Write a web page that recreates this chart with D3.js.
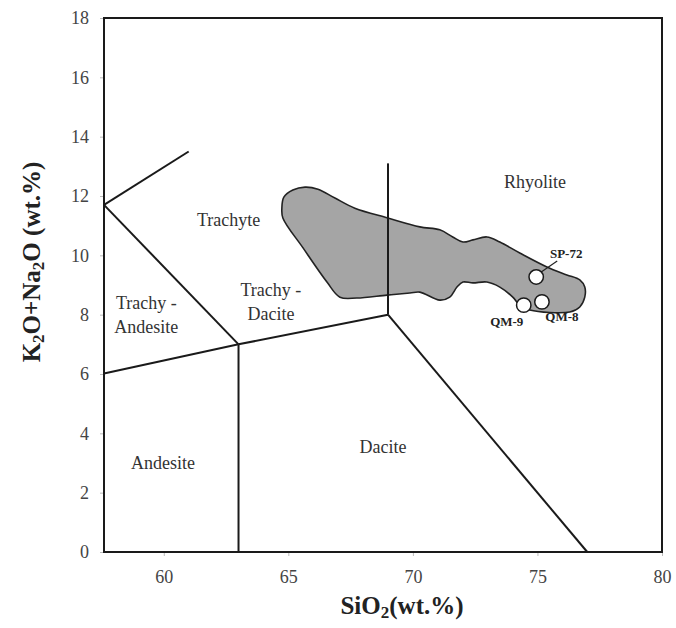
<!DOCTYPE html>
<html>
<head>
<meta charset="utf-8">
<script src="https://cdn.jsdelivr.net/npm/d3@7"></script>
<style>
  body { margin: 0; background: #fff; }
  text { font-family: "Liberation Serif", "DejaVu Serif", serif; }
</style>
</head>
<body>
<svg></svg>
<script>
// TAS field boundaries (SiO2, K2O+Na2O)
const boundaries = [
  [[57.6, 11.7], [61, 13.5]],
  [[57.6, 11.7], [63, 7]],
  [[57.6, 6.02], [63, 7]],
  [[63, 7], [69, 8]],
  [[63, 0], [63, 7]],
  [[69, 8], [69, 13.1]],
  [[69, 8], [77, 0]]
];

const fieldLabels = [
  {text: ["Rhyolite"], x: 74.9, y: 12.47},
  {text: ["Trachyte"], x: 62.6, y: 11.19},
  {text: ["Trachy -", "Dacite"], x: 64.3, y: 8.83},
  {text: ["Trachy -", "Andesite"], x: 59.3, y: 8.39},
  {text: ["Andesite"], x: 59.97, y: 3.0},
  {text: ["Dacite"], x: 68.8, y: 3.54}
];

// outline of the grey field
const fieldOutline = [
  [64.74, 11.59], [64.82, 11.96], [65.18, 12.20], [65.67, 12.30], [66.19, 12.23],
  [66.87, 11.93], [67.67, 11.59], [68.99, 11.26], [70.28, 10.96], [71.08, 10.86],
  [71.60, 10.62], [72.01, 10.45], [72.41, 10.52], [72.97, 10.62], [73.49, 10.45],
  [74.29, 10.08], [75.38, 9.61], [76.18, 9.34], [76.70, 9.17], [76.90, 8.93],
  [76.90, 8.59], [76.70, 8.26], [76.30, 8.09], [74.69, 8.16], [74.29, 8.32],
  [74.01, 8.59], [73.49, 8.93], [72.97, 9.10], [72.41, 9.07], [72.01, 9.10],
  [71.77, 8.93], [71.48, 8.59], [71.08, 8.49], [70.28, 8.76], [69.88, 8.73],
  [68.96, 8.66], [67.75, 8.56], [67.07, 8.59], [66.55, 9.10], [65.59, 10.25],
  [64.78, 11.26]
];

const samples = [
  {name: "SP-72", x: 74.95, y: 9.27},
  {name: "QM-9", x: 74.45, y: 8.32},
  {name: "QM-8", x: 75.18, y: 8.43}
];

const xTicks = [60, 65, 70, 75, 80];
const yTicks = [0, 2, 4, 6, 8, 10, 12, 14, 16, 18];

const svg = d3.select("svg")
    .attr("width", 676)
    .attr("height", 628);

const margin = {top: 18, right: 14, bottom: 76, left: 104},
      width = 676 - margin.left - margin.right,
      height = 628 - margin.top - margin.bottom;

const g = svg.append("g")
    .attr("transform", `translate(${margin.left},${margin.top})`);

const x = d3.scaleLinear().domain([57.6, 80]).range([0, width]);
const y = d3.scaleLinear().domain([0, 18]).range([height, 0]);

// axes (ticks only, frame drawn separately)
const xAxis = g.append("g")
    .attr("transform", `translate(0,${height})`)
    .call(d3.axisBottom(x).tickValues(xTicks).tickSize(4).tickPadding(14));
const yAxis = g.append("g")
    .call(d3.axisLeft(y).tickValues(yTicks).tickSize(4).tickPadding(11));

[xAxis, yAxis].forEach(a => {
  a.select(".domain").remove();
  a.selectAll(".tick line").attr("stroke", "#bbb");
  a.selectAll(".tick text")
      .attr("fill", "#444")
      .style("font-family", "Liberation Serif, serif")
      .style("font-size", "18px");
});

const line = d3.line().x(d => x(d[0])).y(d => y(d[1]));

// grey field
g.append("path")
    .datum(fieldOutline)
    .attr("d", d3.line().x(d => x(d[0])).y(d => y(d[1])).curve(d3.curveCatmullRomClosed.alpha(0.5)))
    .attr("fill", "#a5a5a5")
    .attr("stroke", "#222")
    .attr("stroke-width", 1.6);

// field boundaries
g.selectAll(".boundary")
    .data(boundaries)
    .enter().append("path")
    .attr("class", "boundary")
    .attr("d", line)
    .attr("fill", "none")
    .attr("stroke", "#1a1a1a")
    .attr("stroke-width", 2);

// frame
g.append("rect")
    .attr("width", width)
    .attr("height", height)
    .attr("fill", "none")
    .attr("stroke", "#1a1a1a")
    .attr("stroke-width", 2);

// field names
fieldLabels.forEach(l => {
  const t = g.append("text")
      .attr("x", x(l.x))
      .attr("y", y(l.y))
      .attr("text-anchor", "middle")
      .attr("fill", "#333")
      .style("font-size", "18px");
  l.text.forEach((s, i) => {
    t.append("tspan").attr("x", x(l.x)).attr("dy", i === 0 ? ".35em" : "1.3em").text(s);
  });
});

// SP-72 leader
const sp = samples[0];
g.append("line")
    .attr("x1", x(sp.x) + 5).attr("y1", y(sp.y) - 5)
    .attr("x2", x(sp.x) + 21).attr("y2", y(sp.y) - 16)
    .attr("stroke", "#222")
    .attr("stroke-width", 1.2);

g.selectAll(".sample")
    .data(samples)
    .enter().append("circle")
    .attr("class", "sample")
    .attr("cx", d => x(d.x))
    .attr("cy", d => y(d.y))
    .attr("r", 7.2)
    .attr("fill", "#fff")
    .attr("stroke", "#1a1a1a")
    .attr("stroke-width", 1.5);

const sampleOffsets = {"SP-72": [30, -24], "QM-9": [-17, 16], "QM-8": [20, 15]};
g.selectAll(".sample-label")
    .data(samples)
    .enter().append("text")
    .attr("class", "sample-label")
    .attr("x", d => x(d.x) + sampleOffsets[d.name][0])
    .attr("y", d => y(d.y) + sampleOffsets[d.name][1])
    .attr("dy", ".35em")
    .attr("text-anchor", "middle")
    .attr("font-weight", "bold")
    .attr("fill", "#222")
    .style("font-size", "13px")
    .text(d => d.name);

// axis titles
const xt = svg.append("text")
    .attr("x", 402)
    .attr("y", 614)
    .attr("text-anchor", "middle")
    .attr("font-weight", "bold")
    .attr("fill", "#222")
    .style("font-size", "25px");
xt.append("tspan").text("SiO");
xt.append("tspan").attr("baseline-shift", "-4px").style("font-size", "17px").text("2");
xt.append("tspan").text("(wt.%)");

const yt = svg.append("text")
    .attr("transform", "translate(40,262) rotate(-90)")
    .attr("text-anchor", "middle")
    .attr("font-weight", "bold")
    .attr("fill", "#222")
    .style("font-size", "25px");
yt.append("tspan").text("K");
yt.append("tspan").attr("baseline-shift", "-4px").style("font-size", "17px").text("2");
yt.append("tspan").text("O+Na");
yt.append("tspan").attr("baseline-shift", "-4px").style("font-size", "17px").text("2");
yt.append("tspan").text("O (wt.%)");
</script>
</body>
</html>
